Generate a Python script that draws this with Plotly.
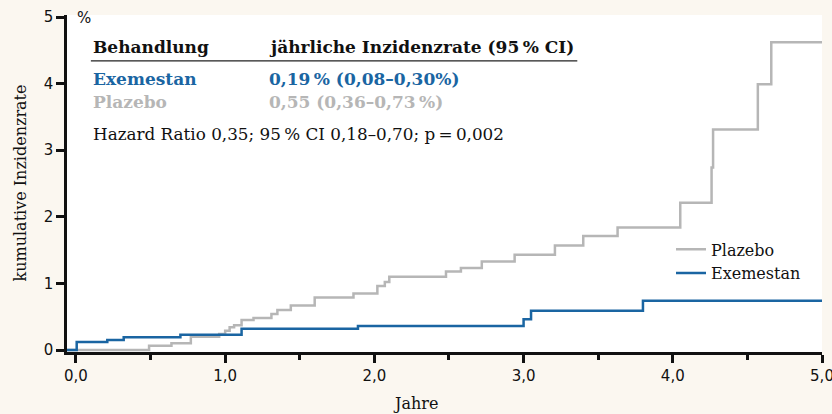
import plotly.graph_objects as go

# Data
exe_years = [-0.06, 0.005, 0.21, 0.32, 0.70, 1.11, 1.89, 3.00, 3.05, 3.80, 5.0]
exe_rate = [0.0, 0.12, 0.15, 0.19, 0.23, 0.32, 0.36, 0.46, 0.59, 0.74, 0.74]

pla_years = [-0.06, 0.49, 0.64, 0.77, 0.96, 1.00, 1.03, 1.06, 1.11, 1.19, 1.31, 1.35,
             1.44, 1.60, 1.86, 2.02, 2.07, 2.10, 2.48, 2.58, 2.72, 2.94, 3.21, 3.40,
             3.63, 4.05, 4.26, 4.27, 4.57, 4.66, 5.0]
pla_rate = [0.0, 0.065, 0.10, 0.20, 0.24, 0.29, 0.34, 0.37, 0.45, 0.48, 0.54, 0.60,
            0.67, 0.79, 0.85, 0.96, 1.02, 1.10, 1.18, 1.23, 1.33, 1.43, 1.57, 1.71,
            1.84, 2.21, 2.74, 3.31, 3.99, 4.62, 4.62]

x_ticks = [0, 1, 2, 3, 4, 5]
y_ticks = [0, 1, 2, 3, 4, 5]

BLUE = "#1a65a2"
GRAY = "#b6b6b6"
SERIF = "DejaVu Serif"
SANS = "DejaVu Sans"

fig = go.Figure()
fig.add_trace(go.Scatter(x=pla_years, y=pla_rate, mode="lines", name="Plazebo",
                         line=dict(color=GRAY, width=2.5, shape="hv")))
fig.add_trace(go.Scatter(x=exe_years, y=exe_rate, mode="lines", name="Exemestan",
                         line=dict(color=BLUE, width=2.5, shape="hv")))

fig.update_layout(
    width=832, height=414,
    margin=dict(l=67, r=10, t=15, b=62, autoexpand=False),
    paper_bgcolor="#fbf7f0",
    plot_bgcolor="#ffffff",
    separators=", ",
    showlegend=True,
    legend=dict(x=0.80, y=0.355, xanchor="left", yanchor="top",
                bgcolor="rgba(0,0,0,0)", font=dict(family=SERIF, size=16, color="#111"),
                traceorder="normal", tracegroupgap=0, itemwidth=30),
    xaxis=dict(range=[-0.06, 5.0], tickvals=x_ticks, tickformat=".1f", automargin=False,
               showgrid=False, zeroline=False, showline=True, linecolor="#111",
               linewidth=2.5, ticks="outside", ticklen=8, tickwidth=2.5, tickcolor="#111",
               ticklabeloverflow="allow",
               tickfont=dict(family=SANS, size=15, color="#111"),
               minor=dict(dtick=0.5, ticks="outside", ticklen=5, tickwidth=2.5, tickcolor="#111")),
    yaxis=dict(range=[-0.03, 5.03], tickvals=y_ticks, tickformat="d", automargin=False,
               showgrid=False, zeroline=False, showline=True, linecolor="#111",
               linewidth=2.5, ticks="outside", ticklen=8, tickwidth=2.5, tickcolor="#111",
               ticklabeloverflow="allow",
               tickfont=dict(family=SANS, size=15, color="#111")),
)

ann = []
ann.append(dict(xref="paper", yref="paper", x=0.010, y=0.99, text="%", showarrow=False,
                xanchor="left", yanchor="middle", font=dict(family=SANS, size=15, color="#111")))
ann.append(dict(xref="paper", yref="paper", x=(415 - 67) / 755, y=(352 - 403) / 337,
                text="Jahre", showarrow=False, xanchor="center", yanchor="middle",
                font=dict(family=SERIF, size=16, color="#111")))
ann.append(dict(xref="paper", yref="paper", x=(20 - 67) / 755, y=0.5,
                text="kumulative Inzidenzrate", showarrow=False, textangle=-90,
                xanchor="center", yanchor="middle", font=dict(family=SERIF, size=16, color="#111")))

col1 = 0.10
col2 = 1.28
ann.append(dict(x=col1, y=4.55, text="<b>Behandlung</b>", showarrow=False, xanchor="left",
                yanchor="middle", font=dict(family=SERIF, size=17, color="#111")))
ann.append(dict(x=col2, y=4.55, text="<b>jährliche Inzidenzrate (95\u2009% CI)</b>", showarrow=False,
                xanchor="left", yanchor="middle", font=dict(family=SERIF, size=17, color="#111")))
ann.append(dict(x=col1, y=4.07, text="<b>Exemestan</b>", showarrow=False, xanchor="left",
                yanchor="middle", font=dict(family=SERIF, size=17, color=BLUE)))
ann.append(dict(x=col2, y=4.07, text="<b>0,19\u2009% (0,08–0,30%)</b>", showarrow=False, xanchor="left",
                yanchor="middle", font=dict(family=SERIF, size=17, color=BLUE)))
ann.append(dict(x=col1, y=3.73, text="<b>Plazebo</b>", showarrow=False, xanchor="left",
                yanchor="middle", font=dict(family=SERIF, size=17, color=GRAY)))
ann.append(dict(x=col2, y=3.73, text="<b>0,55 (0,36–0,73\u2009%)</b>", showarrow=False, xanchor="left",
                yanchor="middle", font=dict(family=SERIF, size=17, color=GRAY)))
ann.append(dict(x=col1, y=3.25, text="Hazard Ratio 0,35; 95\u2009% CI 0,18–0,70; p\u2009=\u20090,002",
                showarrow=False, xanchor="left", yanchor="middle",
                font=dict(family=SERIF, size=16.8, color="#111")))
fig.update_layout(annotations=ann)

fig.add_shape(type="line", xref="x", yref="y", x0=0.10, x1=3.36, y0=4.34, y1=4.34,
              line=dict(color="#222", width=1.2))

fig.write_html("out.html", config={"displayModeBar": False},
               post_script="document.body.style.margin='0';document.body.style.overflow='hidden';")
